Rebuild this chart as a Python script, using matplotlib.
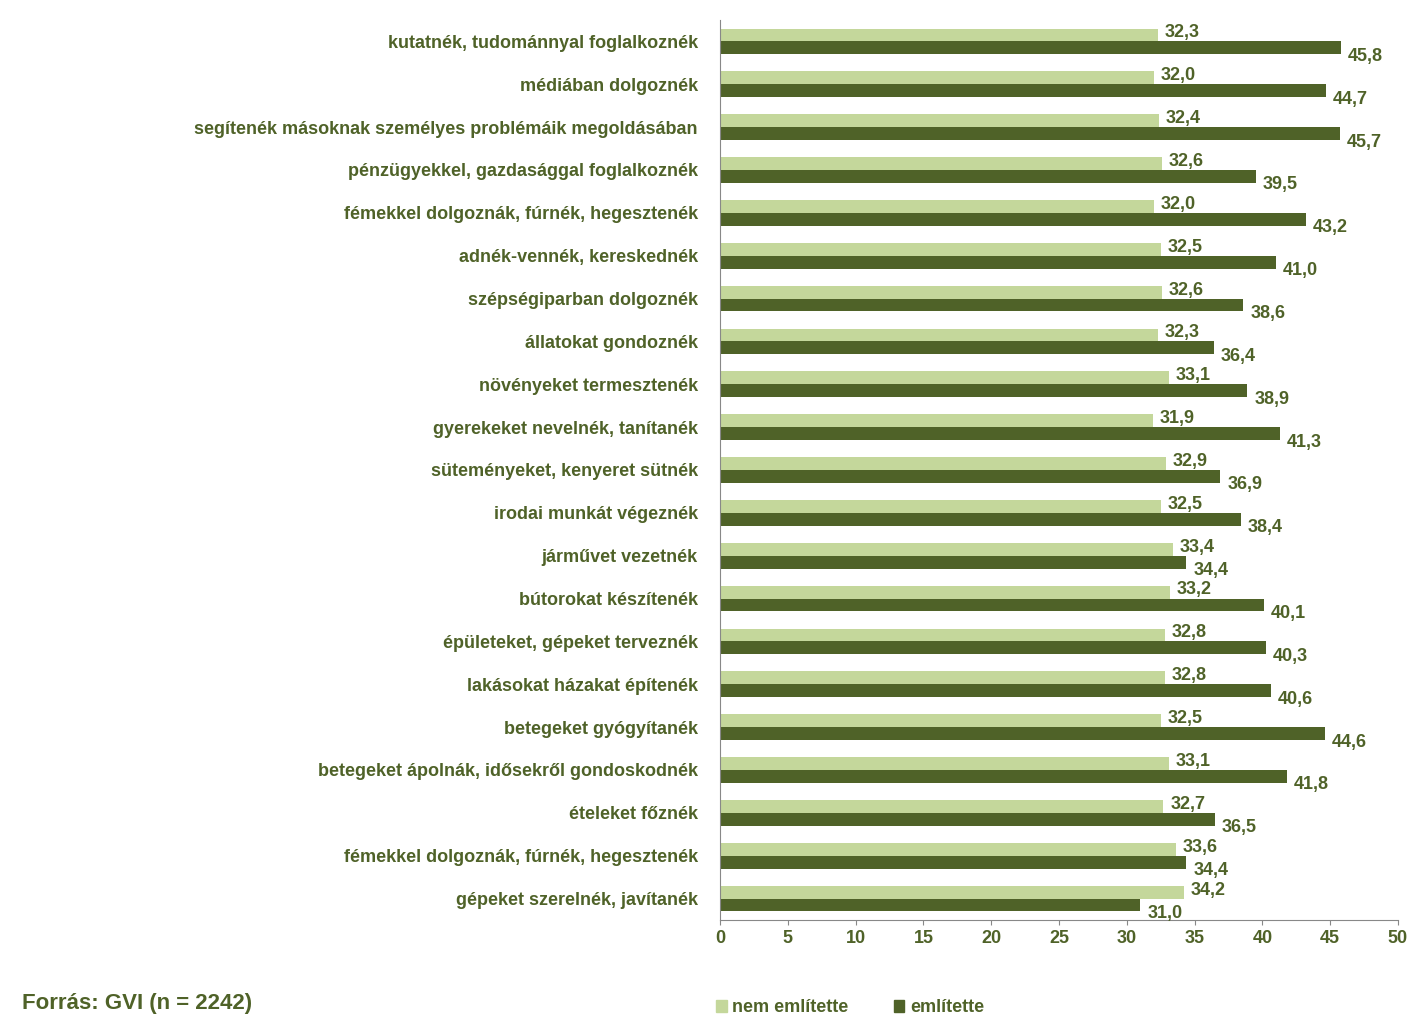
import numpy as np
import matplotlib.pyplot as plt
from matplotlib.patches import Patch

plt.rcParams['font.family'] = 'Liberation Sans'
plt.rcParams['font.weight'] = 'bold'

categories = [
    'kutatnék, tudománnyal foglalkoznék',
    'médiában dolgoznék',
    'segítenék másoknak személyes problémáik megoldásában',
    'pénzügyekkel, gazdasággal foglalkoznék',
    'fémekkel dolgoznák, fúrnék, hegesztenék',
    'adnék-vennék, kereskednék',
    'szépségiparban dolgoznék',
    'állatokat gondoznék',
    'növényeket termesztenék',
    'gyerekeket nevelnék, tanítanék',
    'süteményeket, kenyeret sütnék',
    'irodai munkát végeznék',
    'járművet vezetnék',
    'bútorokat készítenék',
    'épületeket, gépeket terveznék',
    'lakásokat házakat építenék',
    'betegeket gyógyítanék',
    'betegeket ápolnák, idősekről gondoskodnék',
    'ételeket főznék',
    'fémekkel dolgoznák, fúrnék, hegesztenék',
    'gépeket szerelnék, javítanék',
]
nem_emlitette = [32.3, 32.0, 32.4, 32.6, 32.0, 32.5, 32.6, 32.3, 33.1, 31.9, 32.9,
                 32.5, 33.4, 33.2, 32.8, 32.8, 32.5, 33.1, 32.7, 33.6, 34.2]
emlitette = [45.8, 44.7, 45.7, 39.5, 43.2, 41.0, 38.6, 36.4, 38.9, 41.3, 36.9,
             38.4, 34.4, 40.1, 40.3, 40.6, 44.6, 41.8, 36.5, 34.4, 31.0]

light = '#c4d79b'
dark = '#4f6228'
txt = '#4f6228'

fig = plt.figure(figsize=(14.22, 10.33), dpi=100)
ax = fig.add_axes([720 / 1422, 1 - 920 / 1033, 678 / 1422, 900 / 1033])

y = np.arange(len(categories))
h = 0.3
ax.barh(y - h / 2, nem_emlitette, height=h, color=light)
ax.barh(y + h / 2, emlitette, height=h, color=dark)
for yi, a, b in zip(y, nem_emlitette, emlitette):
    ax.text(a + 0.5, yi - h / 2 - 0.05, f'{a:.1f}'.replace('.', ','), va='center',
            ha='left', fontsize=13, color=txt)
    ax.text(b + 0.5, yi + h / 2 + 0.2, f'{b:.1f}'.replace('.', ','), va='center',
            ha='left', fontsize=13, color=txt)

ax.set_ylim(len(categories) - 0.5, -0.5)
ax.set_yticks(y)
ax.set_yticklabels(categories, fontsize=13, color=txt)
ax.tick_params(axis='y', length=0, pad=16)
ax.set_xlim(0, 50)
ax.set_xticks(np.arange(0, 51, 5))
ax.tick_params(axis='x', labelsize=13, labelcolor=txt, color='#888888', direction='out')
for s in ['top', 'right']:
    ax.spines[s].set_visible(False)
for s in ['left', 'bottom']:
    ax.spines[s].set_color('#888888')

fig.text(22 / 1422, 1 - 1004 / 1033, 'Forrás: GVI (n = 2242)', fontsize=16,
         color=txt, va='center')
fig.legend(handles=[Patch(color=light, label='nem említette'),
                    Patch(color=dark, label='említette')],
           loc='center', bbox_to_anchor=(850 / 1422, 1 - 1008 / 1033), ncol=2,
           frameon=False, fontsize=13, labelcolor=txt, handlelength=0.6,
           handleheight=0.6, columnspacing=2.5, handletextpad=0.3)

plt.savefig('out.png')
